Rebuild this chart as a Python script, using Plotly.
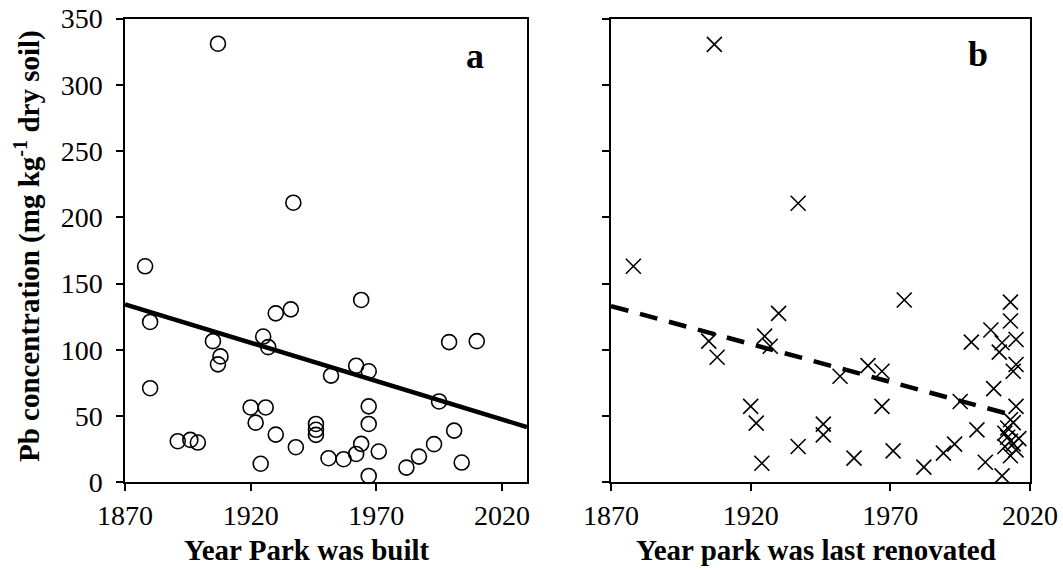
import plotly.graph_objects as go

W, H = 1063, 570

# Panel a: year park was built vs Pb concentration
built_year = [1878, 1880, 1880, 1891, 1896, 1899, 1905, 1908, 1907, 1907,
              1920, 1922, 1924, 1926, 1925, 1927, 1930, 1930, 1936, 1937,
              1938, 1946, 1946, 1946, 1952, 1951, 1957, 1962, 1962, 1964,
              1964, 1967, 1967, 1967, 1967, 1971, 1982, 1987, 1993, 1995,
              1999, 2001, 2004, 2010]
built_pb = [163, 121, 71, 31, 32, 30, 106.5, 95, 89, 331,
            56.5, 45, 14, 56.5, 110, 102, 127.5, 36, 130.5, 211,
            26.5, 44, 39.6, 35.8, 80.5, 18.2, 17.4, 88, 21.4, 137.6,
            29, 83.8, 57.3, 44, 4.8, 23.2, 11.1, 19.4, 28.8, 61,
            105.8, 39, 14.9, 106.5]

# Panel b: year park was last renovated vs Pb concentration
reno_year = [1878, 1905, 1908, 1907, 1920, 1922, 1924, 1925, 1927, 1930,
             1937, 1937, 1946, 1946, 1952, 1957, 1962, 1967, 1967, 1971,
             1975, 1982, 1989, 1993, 1995, 1999, 2001, 2004, 2006, 2007,
             2010, 2013, 2013, 2015, 2010, 2009, 2015, 2014, 2015, 2013,
             2012, 2014, 2011, 2012, 2013, 2014, 2011, 2015, 2013, 2016]
reno_pb = [163, 106.5, 94.4, 330.5, 57.3, 44.7, 14.4, 110.3, 102.7, 127.5,
           210.6, 27, 43.9, 35.8, 80, 18.2, 88, 83.8, 57.3, 23.7,
           137.6, 11.4, 22, 28.8, 61, 105.8, 39.6, 15.1, 114.9, 70.7,
           4.8, 136, 121.7, 107.8, 105.3, 98.2, 88.9, 83.8, 57.3, 47.2,
           41, 45, 37, 34, 31, 29, 27, 24.5, 20, 33]

# Fitted trend lines (end points)
fit_a_x = [1870, 2030]
fit_a_y = [134.3, 41.7]
fit_b_x = [1870, 2015]
fit_b_y = [133, 50]

x_ticks = [1870, 1920, 1970, 2020]
y_ticks = [0, 50, 100, 150, 200, 250, 300, 350]

FONT = "Liberation Serif"

fig = go.Figure()
fig.add_trace(go.Scatter(x=built_year, y=built_pb, mode="markers",
                         marker=dict(symbol="circle-open", size=15, color="black",
                                     line=dict(width=1.6, color="black")),
                         xaxis="x", yaxis="y", showlegend=False, cliponaxis=False))
fig.add_trace(go.Scatter(x=fit_a_x, y=fit_a_y, mode="lines",
                         line=dict(color="black", width=4.5),
                         xaxis="x", yaxis="y", showlegend=False))
fig.add_trace(go.Scatter(x=reno_year, y=reno_pb, mode="markers",
                         marker=dict(symbol="x-thin-open", size=15, color="black",
                                     line=dict(width=1.6, color="black")),
                         xaxis="x2", yaxis="y2", showlegend=False, cliponaxis=False))
fig.add_trace(go.Scatter(x=fit_b_x, y=fit_b_y, mode="lines",
                         line=dict(color="black", width=4.5, dash="18px,12px"),
                         xaxis="x2", yaxis="y2", showlegend=False))

def px(x):
    return x / W

def py(y):
    return 1 - y / H

axis_common = dict(showgrid=False, zeroline=False, showline=True, linecolor="black",
                   linewidth=1.5, mirror=True, ticks="outside", ticklen=7,
                   tickwidth=1.5, tickcolor="black", automargin=False,
                   tickfont=dict(family=FONT, size=28, color="black"))

fig.update_layout(
    width=W, height=H,
    margin=dict(l=0, r=0, t=0, b=0, pad=0, autoexpand=False),
    paper_bgcolor="white", plot_bgcolor="white",
    xaxis=dict(domain=[px(125), px(527)], range=[1870, 2030], tickvals=x_ticks,
               anchor="y", **axis_common),
    yaxis=dict(domain=[py(482.3), py(18.5)], range=[0, 350], tickvals=y_ticks,
               anchor="x", ticklabelstandoff=8, **axis_common),
    xaxis2=dict(domain=[px(611), px(1030)], range=[1870, 2020], tickvals=x_ticks,
                anchor="y2", **axis_common),
    yaxis2=dict(domain=[py(482.3), py(18.5)], range=[0, 350], tickvals=y_ticks,
                showticklabels=False, anchor="x2", **axis_common),
)

title_font = dict(family=FONT, size=29, color="black")
fig.add_annotation(text="<b>Year Park was built</b>", x=px(307), y=py(550),
                   xref="paper", yref="paper", showarrow=False, font=title_font,
                   xanchor="center", yanchor="middle")
fig.add_annotation(text="<b>Year park was last renovated</b>", x=px(816), y=py(550),
                   xref="paper", yref="paper", showarrow=False, font=title_font,
                   xanchor="center", yanchor="middle")
fig.add_annotation(text="<b>Pb concentration (mg kg<sup>-1</sup> dry soil)</b>",
                   x=px(27), y=py(246), xref="paper", yref="paper", showarrow=False,
                   font=title_font, textangle=-90, xanchor="center", yanchor="middle")
fig.add_annotation(text="<b>a</b>", x=px(475), y=py(56), xref="paper", yref="paper",
                   showarrow=False, font=dict(family=FONT, size=36, color="black"),
                   xanchor="center", yanchor="middle")
fig.add_annotation(text="<b>b</b>", x=px(978), y=py(54), xref="paper", yref="paper",
                   showarrow=False, font=dict(family=FONT, size=36, color="black"),
                   xanchor="center", yanchor="middle")

fig.write_html("out.html")
